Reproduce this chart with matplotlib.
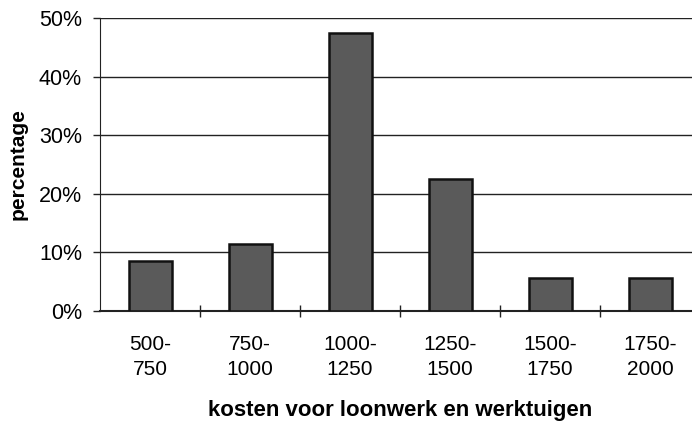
import matplotlib.pyplot as plt
import numpy as np

categories = ['500-\n750', '750-\n1000', '1000-\n1250', '1250-\n1500', '1500-\n1750', '1750-\n2000']
percentages = [8.5, 11.4, 47.4, 22.5, 5.6, 5.6]

plt.rcParams['font.family'] = ['Liberation Sans', 'DejaVu Sans']

fig = plt.figure(figsize=(6.92, 4.21), dpi=100)
# plot area: x from px 100 to 700 (cut off at the right edge), y from px 18 to 311
ax = fig.add_axes([100 / 692, 1 - 311 / 421, 600 / 692, 293 / 421])

x = np.arange(len(categories)) + 0.5
ax.bar(x, percentages, width=0.43, color='#5a5a5a', edgecolor='#111111', linewidth=1.8, zorder=3)

ax.set_xlim(0, 6)
ax.set_ylim(0, 50)
ax.set_yticks([0, 10, 20, 30, 40, 50])
ax.set_yticklabels(['0%', '10%', '20%', '30%', '40%', '50%'], fontsize=15.5)
ax.yaxis.grid(True, color='#222222', linewidth=1.0)
ax.set_axisbelow(True)

ax.set_xticks(np.arange(1, 6))
ax.set_xticklabels([])
ax.set_xticks(x, minor=True)
ax.set_xticklabels(categories, minor=True, fontsize=15, linespacing=1.45)
ax.tick_params(axis='x', which='minor', length=0, pad=17)
ax.tick_params(axis='x', which='major', direction='inout', length=8, width=1, color='#222222')
ax.tick_params(axis='y', direction='out', length=5, width=1, color='#222222', pad=8)

for s in ['top', 'right']:
    ax.spines[s].set_visible(False)
ax.spines['left'].set_color('#222222')
ax.spines['bottom'].set_color('#222222')
ax.spines['bottom'].set_linewidth(1.5)

ax.set_ylabel('percentage', fontsize=15, fontweight='bold', labelpad=8)
ax.set_xlabel('kosten voor loonwerk en werktuigen', fontsize=16, fontweight='bold', labelpad=15)

fig.savefig('out.png', dpi=100)
